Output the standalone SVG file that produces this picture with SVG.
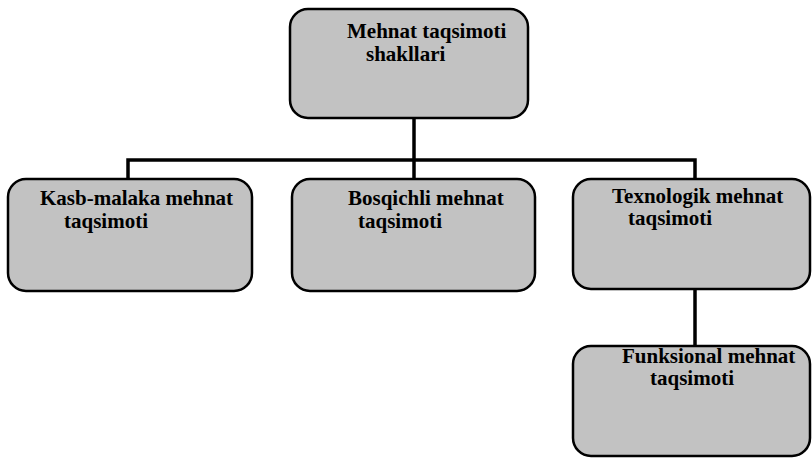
<svg xmlns="http://www.w3.org/2000/svg" width="812" height="459" viewBox="0 0 812 459">
<style>
.box{fill:#c2c2c2;stroke:#000;stroke-width:2.5}
.t{font-family:"Liberation Serif","Times New Roman",serif;font-weight:bold;font-size:21px;fill:#000}
.c{fill:none;stroke:#000;stroke-width:3.5}
</style>
<rect width="812" height="459" fill="#fff"/>
<g id="connectors">
<line class="c" x1="414" y1="118" x2="414" y2="160"/>
<polyline class="c" points="128,178 128,160 695,160 695,178"/>
<line class="c" x1="414" y1="160" x2="414" y2="178"/>
<line class="c" x1="695" y1="288" x2="695" y2="346"/>
</g>
<g id="root">
<rect class="box" x="290" y="9" width="238" height="109" rx="18"/>
<text class="t" x="347" y="38">Mehnat taqsimoti</text>
<text class="t" x="366" y="61">shakllari</text>
</g>
<g id="kasb">
<rect class="box" x="8" y="179" width="244" height="112" rx="18"/>
<text class="t" x="40" y="205">Kasb-malaka mehnat</text>
<text class="t" x="64" y="228">taqsimoti</text>
</g>
<g id="bosqich">
<rect class="box" x="292" y="179" width="243" height="112" rx="18"/>
<text class="t" x="348" y="205">Bosqichli mehnat</text>
<text class="t" x="358" y="228">taqsimoti</text>
</g>
<g id="texno">
<rect class="box" x="573" y="179" width="237" height="110" rx="18"/>
<text class="t" x="612" y="203">Texnologik mehnat</text>
<text class="t" x="628" y="225">taqsimoti</text>
</g>
<g id="funk">
<rect class="box" x="573" y="346" width="237" height="110" rx="18"/>
<text class="t" x="622" y="363">Funksional mehnat</text>
<text class="t" x="650" y="385">taqsimoti</text>
</g>
</svg>
